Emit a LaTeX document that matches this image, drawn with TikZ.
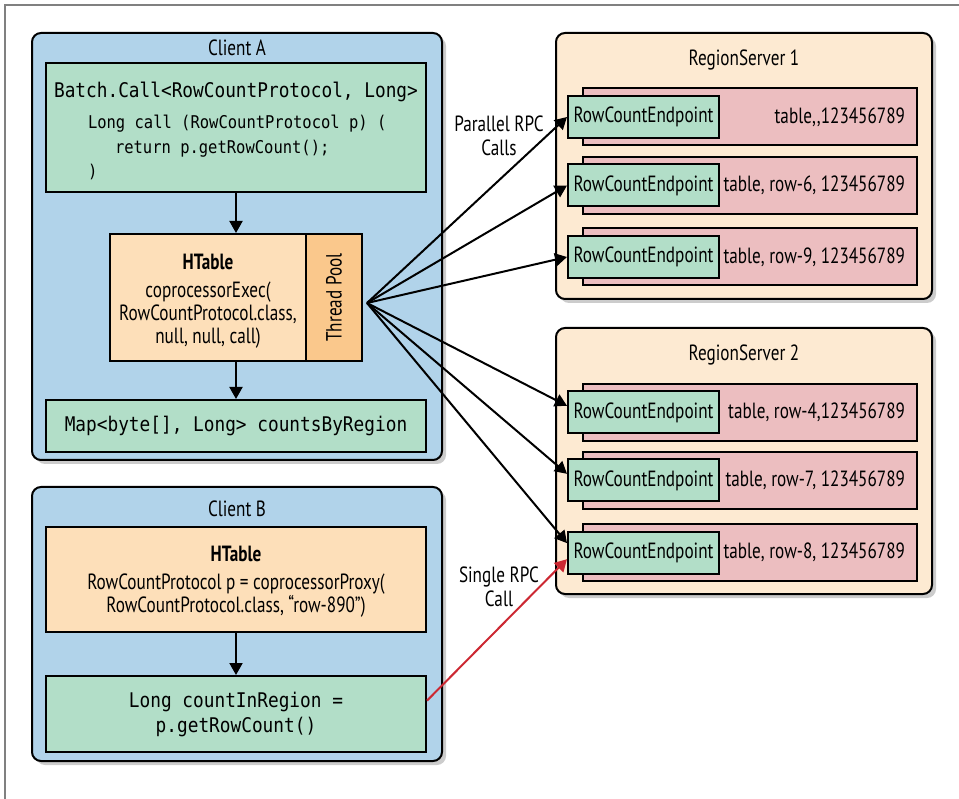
\documentclass[tikz,border=0pt]{standalone}
\usepackage{fontspec}
\setmainfont{PT Sans}[FakeStretch=0.78]
\setmonofont{DejaVu Sans Mono}[FakeStretch=0.88]
\usetikzlibrary{arrows.meta,shadows}

\definecolor{clientblue}{RGB}{177,211,234}
\definecolor{codegreen}{RGB}{178,222,200}
\definecolor{tableorange}{RGB}{253,223,185}
\definecolor{poolorange}{RGB}{250,200,140}
\definecolor{serverbeige}{RGB}{253,234,210}
\definecolor{regionpink}{RGB}{236,190,192}
\definecolor{rpcred}{RGB}{204,40,50}

\begin{document}
\fontsize{22}{24}\selectfont
\begin{tikzpicture}[x=1pt, y=-1pt, line width=2pt,
    every node/.style={inner sep=0pt},
    client/.style={draw, rounded corners=9pt, fill=clientblue,
        drop shadow={shadow xshift=4pt, shadow yshift=-4pt, opacity=0.4}},
    server/.style={draw, rounded corners=9pt, fill=serverbeige,
        drop shadow={shadow xshift=4pt, shadow yshift=-4pt, opacity=0.4}},
    codebox/.style={draw, fill=codegreen},
    tablebox/.style={draw, fill=tableorange},
    region/.style={draw, fill=regionpink, minimum width=334pt, minimum height=57pt},
    endpoint/.style={draw, fill=codegreen, minimum width=151pt, minimum height=42pt},
    code/.style={font=\ttfamily\fontsize{20.2}{25}\selectfont},
    smallcode/.style={font=\ttfamily\fontsize{17.6}{24.5}\selectfont},
    arr/.style={-{Triangle[length=12pt,width=13pt]}}]
    \useasboundingbox (0,0) rectangle (959,799);
    \draw[gray, line width=1.5pt] (5,799) -- (5,5) -- (959,5);

    % client A
    \node[client, minimum width=410pt, minimum height=427pt] (clientA) at (237,246.5) {};
    \node (titleA) at (237,48) {Client A};
    \node[codebox, minimum width=380pt, minimum height=129pt] (batch) at (236,127.5) {};
    \node[code] (batchHead) at (236,92) {Batch.Call<RowCountProtocol, Long>};
    \node[smallcode, anchor=west, align=left] (batchBody) at (87,147.5)
        {Long call (RowCountProtocol p) (\\\hspace*{27pt}return p.getRowCount();\\)};
    \node[tablebox, minimum width=252pt, minimum height=127pt] (htableA) at (236,297.5) {};
    \node[draw, fill=poolorange, minimum width=56pt, minimum height=127pt] (pool) at (334,297.5) {};
    \node[rotate=90] (poolText) at (334,297.5) {Thread Pool};
    \node[font=\bfseries] (htableTitleA) at (208,262) {HTable};
    \node[align=center, font=\fontsize{22}{23}\selectfont] (execA) at (208,315)
        {coprocessorExec(\\RowCountProtocol.class,\\null, null, call)};
    \node[codebox, code, minimum width=380pt, minimum height=52pt] (map) at (236,426)
        {Map<byte[], Long> countsByRegion};
    \draw[arr] (batch) -- (htableA);
    \draw[arr] (htableA) -- (map);

    % client B
    \node[client, minimum width=410pt, minimum height=274pt] (clientB) at (237,624) {};
    \node (titleB) at (237,509) {Client B};
    \node[tablebox, minimum width=380pt, minimum height=105pt] (htableB) at (236,579.5) {};
    \node[font=\bfseries] (htableTitleB) at (236,554) {HTable};
    \node[align=center, font=\fontsize{22}{23}\selectfont] (proxyB) at (236,595.5)
        {RowCountProtocol p = coprocessorProxy(\\RowCountProtocol.class, “row-890”)};
    \node[codebox, code, align=center, minimum width=380pt, minimum height=76pt] (countB) at (236,714)
        {Long countInRegion =\\p.getRowCount()};
    \draw[arr] (htableB) -- (countB);

    % region server 1
    \node[server, minimum width=376pt, minimum height=266pt] (rs1) at (744,166) {};
    \node (rs1Title) at (744,60) {RegionServer 1};
    \node[region] (reg1) at (750,117) {};
    \node[endpoint] (ep1) at (643.5,117) {RowCountEndpoint};
    \node[anchor=east] (key1) at (906,117) {table,{},123456789};
    \node[region] (reg2) at (750,185.5) {};
    \node[endpoint] (ep2) at (643.5,185.5) {RowCountEndpoint};
    \node[anchor=east] (key2) at (906,185.5) {table, row-6, 123456789};
    \node[region] (reg3) at (750,257) {};
    \node[endpoint] (ep3) at (643.5,257) {RowCountEndpoint};
    \node[anchor=east] (key3) at (906,257) {table, row-9, 123456789};

    % region server 2
    \node[server, minimum width=376pt, minimum height=266pt] (rs2) at (744,461) {};
    \node (rs2Title) at (744,355) {RegionServer 2};
    \node[region] (reg4) at (750,412.5) {};
    \node[endpoint] (ep4) at (643.5,412.5) {RowCountEndpoint};
    \node[anchor=east] (key4) at (906,412.5) {table, row-4,123456789};
    \node[region] (reg5) at (750,480.5) {};
    \node[endpoint] (ep5) at (643.5,480.5) {RowCountEndpoint};
    \node[anchor=east] (key5) at (906,480.5) {table, row-7, 123456789};
    \node[region] (reg6) at (750,552.5) {};
    \node[endpoint] (ep6) at (643.5,552.5) {RowCountEndpoint};
    \node[anchor=east] (key6) at (906,552.5) {table, row-8, 123456789};

    % rpc calls
    \coordinate (fan) at (367,303);
    \draw[arr] (fan) -- (ep1.west);
    \draw[arr] (fan) -- (ep2.west);
    \draw[arr] (fan) -- (ep3.west);
    \draw[arr] (fan) -- (ep4.175);
    \draw[arr] (fan) -- (ep5.175);
    \draw[arr] (fan) -- (ep6.173);
    \draw[arr, rpcred] (countB.4) -- (ep6.185);
    \node[align=center] (parallel) at (499,136) {Parallel RPC\\Calls};
    \node[align=center] (single) at (499,587) {Single RPC\\Call};
\end{tikzpicture}
\end{document}
